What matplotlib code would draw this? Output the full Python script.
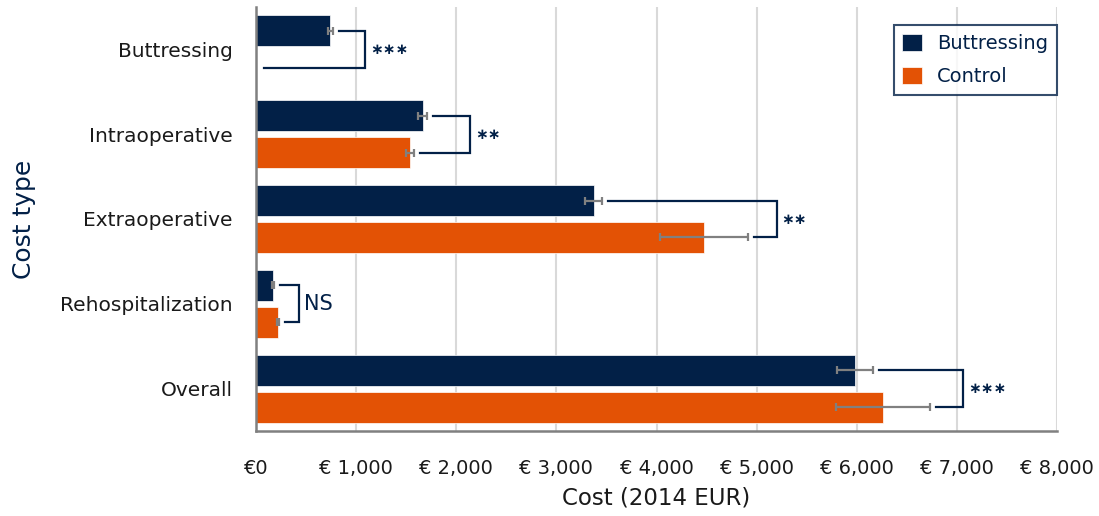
import matplotlib
matplotlib.use("Agg")
import matplotlib.pyplot as plt
import numpy as np

# values (2014 EUR)
categories = ["Buttressing", "Intraoperative", "Extraoperative",
              "Rehospitalization", "Overall"]
buttressing_cost = [740, 1665, 3375, 165, 5985]
control_cost = [0, 1540, 4470, 215, 6260]
buttressing_err = [25, 45, 85, 10, 180]
control_err = [0, 40, 440, 10, 470]
significance = ["∗∗∗", "∗∗", "∗∗", "NS", "∗∗∗"]
bracket_x = [1090, 2135, 5200, 425, 7065]
x_ticks = [0, 1000, 2000, 3000, 4000, 5000, 6000, 7000, 8000]

NAVY = "#022047"
ORANGE = "#E35205"
GREY = "#808080"
TEXT = "#1a1a1a"

plt.rcParams["font.family"] = ["DejaVu Sans"]

fig = plt.figure(figsize=(10.99, 5.16), dpi=100)
ax = fig.add_axes([256 / 1099, 1 - 431 / 516, 801 / 1099, 424 / 516])

y = np.arange(len(categories))
offset = 0.218
height = 0.365

ax.barh(y - offset, buttressing_cost, height=height, color=NAVY,
        edgecolor="white", linewidth=0.5, label="Buttressing", zorder=3)
ax.barh(y + offset, control_cost, height=height, color=ORANGE,
        edgecolor="white", linewidth=0.5, label="Control", zorder=3)

err_style = dict(fmt="none", ecolor=GREY, elinewidth=1.6, capsize=3,
                 capthick=1.6, zorder=4)
ax.errorbar(buttressing_cost, y - offset, xerr=buttressing_err, **err_style)
ax.errorbar([c if c > 0 else np.nan for c in control_cost], y + offset,
            xerr=control_err, **err_style)

# significance brackets
gap = 60
for i in range(len(categories)):
    top_start = buttressing_cost[i] + buttressing_err[i] + gap
    bot_start = control_cost[i] + control_err[i] + gap
    if control_cost[i] == 0:
        bot_start = 80
    xv = bracket_x[i]
    ax.plot([top_start, xv, xv, bot_start],
            [i - offset, i - offset, i + offset, i + offset],
            color=NAVY, lw=1.6, zorder=5, solid_joinstyle="miter")
    if significance[i] == "NS":
        ax.text(xv + 55, i, significance[i], color=NAVY, fontsize=15,
                ha="left", va="center")
    else:
        ax.text(xv + 50, i, significance[i], color=NAVY, fontsize=11,
                fontweight="bold", ha="left", va="center")

ax.set_xlim(0, 8000)
ax.set_ylim(len(categories) - 0.5, -0.5)
ax.set_xticks(x_ticks)
ax.set_xticklabels(["€0"] + [f"€ {v:,}" for v in x_ticks[1:]])
ax.set_yticks(y)
ax.set_yticklabels(categories)
ax.tick_params(axis="x", length=0, pad=20, labelsize=14, labelcolor=TEXT)
ax.tick_params(axis="y", length=0, pad=17, labelsize=14.5, labelcolor=TEXT)

ax.grid(axis="x", color="#d9d9d9", lw=1.5, zorder=0)
ax.set_axisbelow(True)
for side in ["top", "right"]:
    ax.spines[side].set_visible(False)
ax.spines["left"].set_color(GREY)
ax.spines["left"].set_linewidth(1.8)
ax.spines["bottom"].set_color(GREY)
ax.spines["bottom"].set_linewidth(1.8)
ax.spines["left"].set_zorder(6)

ax.set_xlabel("Cost (2014 EUR)", fontsize=16.5, color=TEXT)
ax.xaxis.set_label_coords(0.5, -0.132)
ax.set_ylabel("Cost type", fontsize=18, color=NAVY)
ax.yaxis.set_label_coords(-(256 - 36) / 801, 0.5)

leg = ax.legend(loc="upper right", bbox_to_anchor=(1.0, 0.958),
                fontsize=14, frameon=True, fancybox=False, handlelength=1.0,
                handleheight=1.0, handletextpad=0.8, borderpad=0.45,
                labelspacing=0.7, borderaxespad=0)
leg.get_frame().set_edgecolor(NAVY)
leg.get_frame().set_linewidth(1.5)
for t in leg.get_texts():
    t.set_color(NAVY)

fig.savefig("out.png", dpi=100)
